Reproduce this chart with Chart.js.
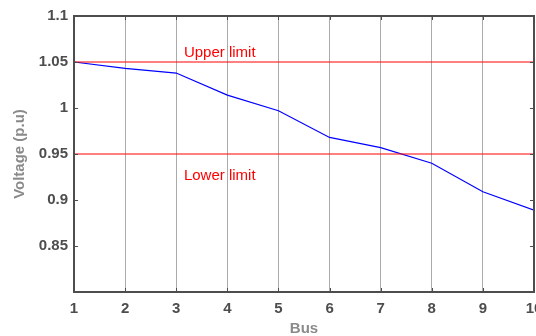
<!DOCTYPE html>
<html>
<head>
<meta charset="utf-8">
<script src="https://cdn.jsdelivr.net/npm/chart.js@4"></script>
<style>
  html, body { margin: 0; padding: 0; background: #fff; }
  canvas { display: block; }
</style>
</head>
<body>
<canvas id="c" width="536" height="336"></canvas>
<script>
// ---- data ----
const buses = [1, 2, 3, 4, 5, 6, 7, 8, 9, 10];
const voltage = [1.050, 1.043, 1.038, 1.014, 0.997, 0.968, 0.957, 0.940, 0.909, 0.889];
const upperLimit = 1.05;
const lowerLimit = 0.95;
const limitLabels = ['Upper limit', 'Lower limit'];
const labelAnchorsX = [3.15, 3.15];
const labelAnchorsY = [1.0595, 0.9265];
const yTickValues = [0.85, 0.9, 0.95, 1, 1.05, 1.1];

const FONT = '"Liberation Sans", Arial, sans-serif';

const voltagePts = buses.map((b, i) => ({ x: b, y: voltage[i] }));
const upperPts = [{ x: buses[0], y: upperLimit }, { x: buses[buses.length - 1], y: upperLimit }];
const lowerPts = [{ x: buses[0], y: lowerLimit }, { x: buses[buses.length - 1], y: lowerLimit }];

const framePlugin = {
  id: 'frame',
  afterDatasetsDraw(chart) {
    const { ctx, scales: { x, y } } = chart;
    ctx.save();
    ctx.fillStyle = '#ff0000';
    ctx.font = '15px ' + FONT;
    ctx.textAlign = 'left';
    ctx.textBaseline = 'middle';
    limitLabels.forEach((t, i) => {
      ctx.fillText(t, x.getPixelForValue(labelAnchorsX[i]), y.getPixelForValue(labelAnchorsY[i]));
    });
    ctx.restore();
  },
  afterDraw(chart) {
    const { ctx, chartArea: a, scales: { x, y } } = chart;
    ctx.save();
    ctx.strokeStyle = '#4d4d4d';
    ctx.lineWidth = 1;
    ctx.beginPath();
    x.ticks.forEach(t => {
      const px = Math.round(x.getPixelForValue(t.value)) + 0.5;
      ctx.moveTo(px, a.bottom); ctx.lineTo(px, a.bottom - 4);
      ctx.moveTo(px, a.top); ctx.lineTo(px, a.top + 4);
    });
    y.ticks.forEach(t => {
      const py = Math.round(y.getPixelForValue(t.value)) + 0.5;
      ctx.moveTo(a.left, py); ctx.lineTo(a.left + 4, py);
      ctx.moveTo(a.right, py); ctx.lineTo(a.right - 4, py);
    });
    ctx.stroke();
    ctx.lineWidth = 2;
    ctx.strokeRect(a.left, a.top, a.right - a.left, a.bottom - a.top);
    ctx.restore();
  }
};

new Chart(document.getElementById('c'), {
  type: 'line',
  data: {
    datasets: [
      { data: upperPts, borderColor: '#ff0000', borderWidth: 1, pointRadius: 0, fill: false },
      { data: lowerPts, borderColor: '#ff0000', borderWidth: 1, pointRadius: 0, fill: false },
      { data: voltagePts, borderColor: '#0000ff', borderWidth: 1.2, pointRadius: 0, fill: false, tension: 0 }
    ]
  },
  options: {
    responsive: false,
    animation: false,
    devicePixelRatio: 1,
    layout: { padding: { top: 16, right: 2, bottom: 0, left: 0 } },
    plugins: { legend: { display: false }, tooltip: { enabled: false } },
    scales: {
      x: {
        type: 'linear',
        min: 1, max: 10,
        afterFit(s) { s.height = 44; s.paddingLeft = 0; s.paddingRight = 0; },
        grid: { display: true, color: '#ababab', lineWidth: 1, drawTicks: false },
        border: { display: false },
        ticks: {
          stepSize: 1, padding: 8, color: '#4d4d4d', maxRotation: 0,
          font: { family: FONT, size: 15, weight: 'bold' },
          callback: v => String(v)
        },
        title: {
          display: true, text: 'Bus', color: '#8a8a8a',
          font: { family: FONT, size: 15, weight: 'bold' },
          padding: { top: 0, bottom: -2 }
        }
      },
      y: {
        type: 'linear',
        min: 0.8, max: 1.1,
        afterFit(s) { s.width = 74; s.paddingTop = 0; s.paddingBottom = 0; },
        afterBuildTicks(s) { s.ticks = [0.8].concat(yTickValues).map(v => ({ value: v })); },
        grid: { display: false, drawTicks: false },
        border: { display: false },
        ticks: {
          padding: 6, color: '#4d4d4d',
          font: { family: FONT, size: 15, weight: 'bold' },
          callback: v => (Math.abs(v - 0.8) < 1e-6 ? '' : String(Number(v.toFixed(2))))
        },
        title: {
          display: true, text: 'Voltage (p.u)', color: '#8a8a8a',
          font: { family: FONT, size: 15, weight: 'bold' },
          padding: { top: 11, bottom: 0 }
        }
      }
    }
  },
  plugins: [framePlugin]
});
</script>
</body>
</html>
